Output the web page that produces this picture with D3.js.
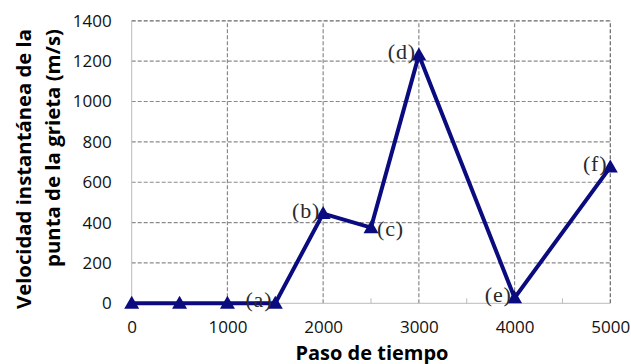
<!DOCTYPE html>
<html><head><meta charset="utf-8">
<script src="https://cdn.jsdelivr.net/npm/d3@7"></script>
<style>body{margin:0;background:#fff}svg{display:block}</style>
</head><body>
<svg id="c" width="631" height="364"></svg>
<script>
const steps = [0, 500, 1000, 1500, 2000, 2500, 3000, 4000, 5000];
const velocity = [0, 0, 0, 0, 445, 375, 1230, 27, 675];
const pointLabels = [
  {step: 1500, label: "(a)", side: "left"},
  {step: 2000, label: "(b)", side: "left"},
  {step: 2500, label: "(c)", side: "right"},
  {step: 3000, label: "(d)", side: "left"},
  {step: 4000, label: "(e)", side: "left"},
  {step: 5000, label: "(f)", side: "left"}
];
const xTicks = [0, 1000, 2000, 3000, 4000, 5000];
const xMinorTicks = [500, 1500, 2500, 3500, 4500];
const yTicks = [0, 200, 400, 600, 800, 1000, 1200, 1400];
const xTitle = "Paso de tiempo";
const yTitle = ["Velocidad instantánea de la", "punta de la grieta (m/s)"];

const svg = d3.select("#c");
const x = d3.scaleLinear().domain([0, 5000]).range([131.7, 610.3]);
const y = d3.scaleLinear().domain([0, 1400]).range([303.3, 20.8]);
const color = "#0b0b80";
const sansFont = "'Open Sans', Carlito, sans-serif";

// grid
const g = svg.append("g");
g.selectAll(".hg").data(yTicks.filter(d => d > 0)).join("line")
  .attr("x1", x(0)).attr("x2", x(5000)).attr("y1", d => y(d)).attr("y2", d => y(d))
  .attr("stroke", d => d === 1400 ? "#666" : "#8a8a8a").attr("stroke-width", 1.2)
  .attr("stroke-dasharray", "4,2");
g.selectAll(".vg").data(xTicks.filter(d => d > 0)).join("line")
  .attr("x1", d => x(d)).attr("x2", d => x(d)).attr("y1", y(0)).attr("y2", y(1400))
  .attr("stroke", d => d === 5000 ? "#666" : "#8a8a8a").attr("stroke-width", 1.2)
  .attr("stroke-dasharray", "4,2");
// axes lines
g.append("line").attr("x1", x(0)).attr("x2", x(0)).attr("y1", y(0)).attr("y2", y(1400))
  .attr("stroke", "#bbb").attr("stroke-width", 1);
g.append("line").attr("x1", x(0)).attr("x2", x(5000)).attr("y1", y(0)).attr("y2", y(0))
  .attr("stroke", "#bbb").attr("stroke-width", 1);
g.selectAll(".mt").data(xMinorTicks).join("line")
  .attr("x1", d => x(d)).attr("x2", d => x(d)).attr("y1", y(0)).attr("y2", y(0) - 5)
  .attr("stroke", "#bbb").attr("stroke-width", 1);

// tick labels via axes
const yAxis = svg.append("g").attr("transform", `translate(${x(0)},0)`)
  .call(d3.axisLeft(y).tickValues(yTicks).tickSize(0).tickPadding(20).tickFormat(d3.format("d")));
const xAxis = svg.append("g").attr("transform", `translate(0,${y(0)})`)
  .call(d3.axisBottom(x).tickValues(xTicks).tickSize(0).tickPadding(18).tickFormat(d3.format("d")));
[yAxis, xAxis].forEach(a => {
  a.select(".domain").remove();
  a.selectAll("text").attr("font-family", sansFont).attr("font-size", 17).attr("fill", "#111");
});

// line and markers
const data = steps.map((s, i) => ({s, v: velocity[i]}));
svg.append("path").datum(data)
  .attr("d", d3.line().x(d => x(d.s)).y(d => y(d.v)))
  .attr("fill", "none").attr("stroke", color).attr("stroke-width", 4).attr("stroke-linejoin", "miter");
svg.selectAll(".mk").data(data).join("path")
  .attr("transform", d => `translate(${x(d.s)},${y(d.v)})`)
  .attr("d", "M0,-7.5L7.5,5.5L-7.5,5.5Z").attr("fill", color);

// point labels
const valueAt = s => velocity[steps.indexOf(s)];
svg.selectAll(".pl").data(pointLabels).join("text")
  .attr("x", d => d.side === "left" ? x(d.step) - 3 : x(d.step) + 6)
  .attr("y", d => y(valueAt(d.step)) + (d.side === "left" ? 4 : 8))
  .attr("text-anchor", d => d.side === "left" ? "end" : "start")
  .attr("font-family", "'Liberation Serif', 'DejaVu Serif', serif")
  .attr("font-size", 22).attr("letter-spacing", 0.8).attr("fill", "#2a2a2a")
  .text(d => d.label);

// titles
svg.append("text").attr("x", 372).attr("y", 360).attr("text-anchor", "middle")
  .attr("font-family", sansFont).attr("font-weight", "bold").attr("font-size", 20).attr("fill", "#000")
  .attr("textLength", 153).attr("lengthAdjust", "spacingAndGlyphs")
  .text(xTitle);
const yt = svg.append("g");
yTitle.forEach((t, i) => {
  yt.append("text").attr("transform", `translate(${i === 0 ? 31 : 60},29) rotate(-90)`)
    .attr("text-anchor", "end")
    .attr("font-family", sansFont).attr("font-weight", "bold").attr("font-size", 20).attr("fill", "#000")
    .attr("textLength", i === 0 ? 280 : 238).attr("lengthAdjust", "spacingAndGlyphs")
    .text(t);
});
</script>
</body></html>
